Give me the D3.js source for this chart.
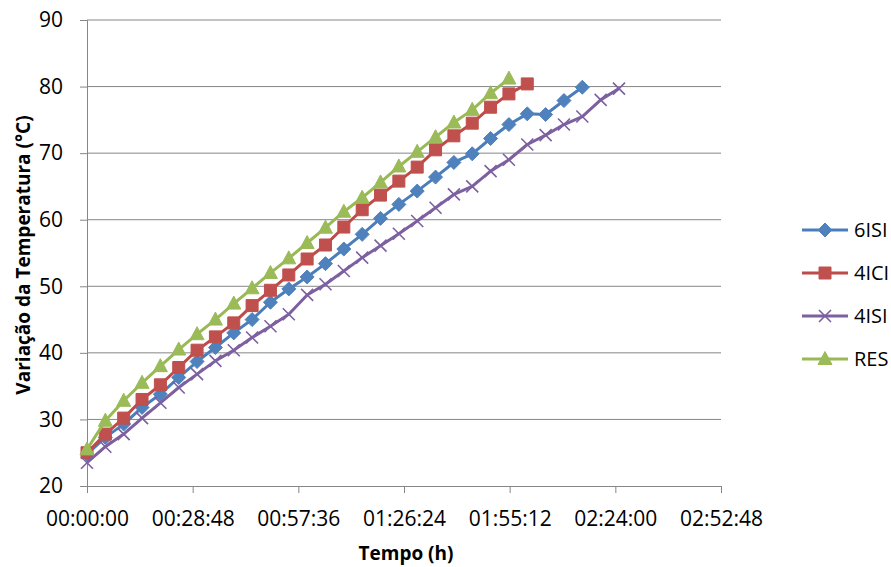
<!DOCTYPE html>
<html>
<head>
<meta charset="utf-8">
<script src="https://cdn.jsdelivr.net/npm/d3@7"></script>
<style>
  body { margin: 0; background: #fff; }
  text { font-family: "Open Sans", sans-serif; fill: #000; }
</style>
</head>
<body>
<svg width="891" height="567"></svg>
<script>
// tempo das leituras, em minutos
var timeMin = [0, 5, 10, 15, 20, 25, 30, 35, 40, 45, 50, 55, 60, 65, 70,
               75, 80, 85, 90, 95, 100, 105, 110, 115, 120, 125, 130, 135, 140, 145];

var s6ISI = [24.8, 27.3, 29.3, 31.8, 33.8, 36.3, 38.7, 40.8, 43.0, 45.0, 47.6, 49.6, 51.4, 53.4,
             55.6, 57.8, 60.2, 62.3, 64.3, 66.4, 68.6, 69.9, 72.2, 74.3, 75.9, 75.8, 77.9, 79.9];
var s4ICI = [25.0, 27.8, 30.2, 33.0, 35.2, 37.8, 40.4, 42.4, 44.5, 47.1, 49.4, 51.7, 54.1, 56.2,
             58.9, 61.5, 63.7, 65.8, 67.9, 70.5, 72.6, 74.5, 76.9, 78.9, 80.4];
var s4ISI = [23.5, 25.9, 27.8, 30.2, 32.5, 34.8, 36.8, 38.8, 40.4, 42.3, 44.0, 45.8, 48.7, 50.3, 52.3,
             54.3, 56.1, 57.9, 59.8, 61.8, 63.8, 65.0, 67.3, 69.0, 71.3, 72.7, 74.3, 75.5, 78.0, 79.7];
var sRES  = [25.5, 29.8, 32.8, 35.5, 38.0, 40.5, 42.8, 45.0, 47.4, 49.7, 52.0, 54.2, 56.5, 58.8,
             61.2, 63.3, 65.6, 68.0, 70.2, 72.4, 74.6, 76.5, 79.0, 81.2];

var seriesNames = ["6ISI", "4ICI", "4ISI", "RES"];
var xTicksSec = [0, 1728, 3456, 5184, 6912, 8640, 10368];
var yTicks = [20, 30, 40, 50, 60, 70, 80, 90];

var series = [
    { name: seriesNames[0], values: s6ISI, line: "#4A7EBB", fill: "#4F81BD", marker: "diamond" },
    { name: seriesNames[1], values: s4ICI, line: "#BE4B48", fill: "#C0504D", marker: "square" },
    { name: seriesNames[2], values: s4ISI, line: "#7D60A0", fill: "none",    marker: "x" },
    { name: seriesNames[3], values: sRES,  line: "#98B954", fill: "#9BBB59", marker: "triangle" }
];

var svg = d3.select("svg");

var x = d3.scaleLinear().domain([0, 10368]).range([87, 721]);
var y = d3.scaleLinear().domain([20, 90]).range([486, 20]);

function fmtTime(s) {
    var h = Math.floor(s / 3600), m = Math.floor((s % 3600) / 60), sec = s % 60;
    return d3.format("02")(h) + ":" + d3.format("02")(m) + ":" + d3.format("02")(sec);
}

// grelha horizontal
svg.append("g").selectAll("line")
    .data(yTicks.slice(1))
    .enter().append("line")
    .attr("x1", x(0)).attr("x2", x(10368))
    .attr("y1", function (d) { return y(d); })
    .attr("y2", function (d) { return y(d); })
    .attr("stroke", "#868686").attr("stroke-width", 1);

// eixo Y
var yAxis = svg.append("g")
    .attr("transform", "translate(" + x(0) + ",0)")
    .call(d3.axisLeft(y).tickValues(yTicks).tickSize(7).tickPadding(17));
// eixo X
var xAxis = svg.append("g")
    .attr("transform", "translate(0," + y(20) + ")")
    .call(d3.axisBottom(x).tickValues(xTicksSec).tickSize(7).tickPadding(18).tickFormat(fmtTime));

[yAxis, xAxis].forEach(function (a) {
    a.select(".domain").attr("stroke", "#868686").attr("stroke-width", 1);
    a.selectAll(".tick line").attr("stroke", "#868686");
    a.selectAll(".tick text").style("font-size", "21px").attr("fill", "#000");
});

function markerPath(type) {
    if (type === "diamond") return "M0,-7L7,0L0,7L-7,0Z";
    if (type === "square") return "M-6,-6H6V6H-6Z";
    if (type === "triangle") return "M0,-7.5L7,5.5L-7,5.5Z";
    return "M-6,-6L6,6M6,-6L-6,6";
}

function drawMarker(g, s) {
    g.append("path")
        .attr("d", markerPath(s.marker))
        .attr("fill", s.fill)
        .attr("stroke", s.marker === "x" ? s.line : s.fill)
        .attr("stroke-width", s.marker === "x" ? 1.6 : 1);
}

var line = d3.line()
    .x(function (d, i) { return x(timeMin[i] * 60); })
    .y(function (d) { return y(d); });

series.forEach(function (s) {
    var g = svg.append("g");
    g.append("path")
        .datum(s.values)
        .attr("fill", "none")
        .attr("stroke", s.line)
        .attr("stroke-width", 3)
        .attr("stroke-linejoin", "round")
        .attr("d", line);
    s.values.forEach(function (v, i) {
        var m = g.append("g")
            .attr("transform", "translate(" + x(timeMin[i] * 60) + "," + y(v) + ")");
        drawMarker(m, s);
    });
});

// legenda
var legend = svg.append("g");
series.forEach(function (s, i) {
    var ly = 230 + i * 43;
    var item = legend.append("g");
    item.append("line")
        .attr("x1", 802).attr("x2", 848).attr("y1", ly).attr("y2", ly)
        .attr("stroke", s.line).attr("stroke-width", 3);
    var m = item.append("g").attr("transform", "translate(825," + ly + ")");
    drawMarker(m, s);
    item.append("text")
        .attr("x", 854).attr("y", ly).attr("dy", "0.36em")
        .style("font-size", "20px")
        .text(s.name);
});

// títulos dos eixos
svg.append("text")
    .attr("transform", "translate(23,255) rotate(-90)")
    .attr("text-anchor", "middle")
    .attr("dy", "0.36em")
    .style("font-size", "19px").style("font-weight", "bold")
    .text("Variação da Temperatura (°C)");

svg.append("text")
    .attr("x", 406).attr("y", 553).attr("dy", "0.36em")
    .attr("text-anchor", "middle")
    .style("font-size", "19px").style("font-weight", "bold")
    .text("Tempo (h)");
</script>
</body>
</html>
